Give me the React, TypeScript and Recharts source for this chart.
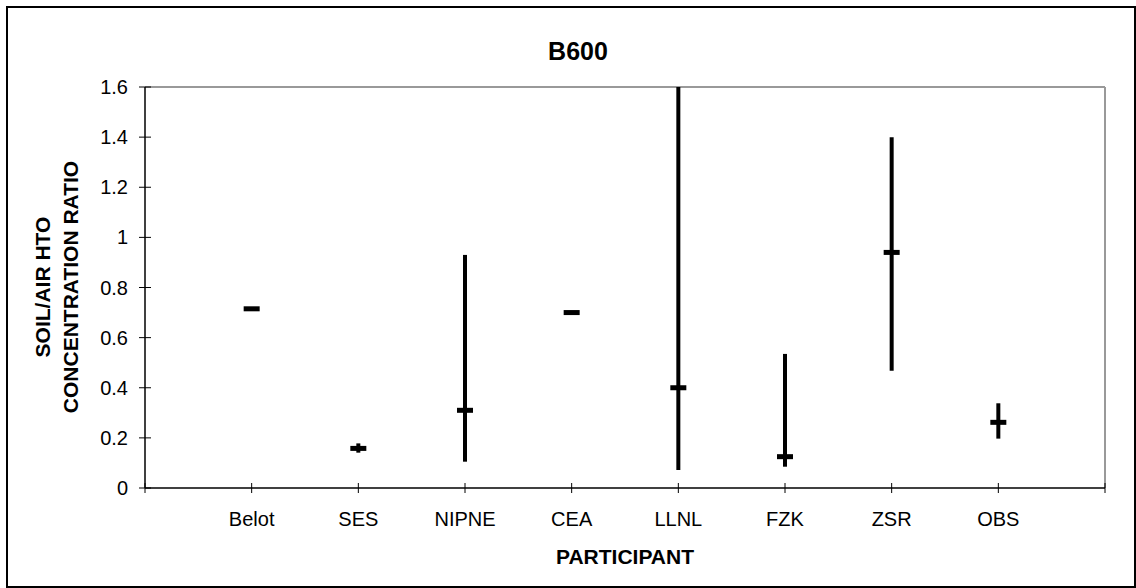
import React from 'react';
import { ComposedChart, Scatter, ErrorBar, XAxis, YAxis, ReferenceLine } from 'recharts';

const participants = ['Belot', 'SES', 'NIPNE', 'CEA', 'LLNL', 'FZK', 'ZSR', 'OBS'];
const means = [0.715, 0.158, 0.31, 0.7, 0.4, 0.125, 0.94, 0.262];
const lows = [0.715, 0.141, 0.105, 0.7, 0.072, 0.085, 0.468, 0.197];
const highs = [0.715, 0.178, 0.93, 0.7, 1.6, 0.535, 1.4, 0.338];
const yTicks = [0, 0.2, 0.4, 0.6, 0.8, 1, 1.2, 1.4, 1.6];
const xTicks = [0, 1, 2, 3, 4, 5, 6, 7, 8, 9];

const FONT = '"Liberation Sans", Arial, sans-serif';

const data = participants.map((name, i) => ({
  name,
  pos: i + 1,
  mean: means[i],
  err: [means[i] - lows[i], highs[i] - means[i]],
}));

const XTick = (props: any) => {
  const { x, y, payload } = props;
  const label = participants[payload.value - 1] ?? '';
  return (
    <g>
      <line x1={x} x2={x} y1={y - 5} y2={y + 5} stroke="#000" strokeWidth={1} />
      <text x={x} y={y + 38} textAnchor="middle" fontSize={20} fontFamily={FONT} fill="#000">
        {label}
      </text>
    </g>
  );
};

const YTick = (props: any) => {
  const { x, y, payload } = props;
  return (
    <g>
      <line x1={x - 6} x2={x + 6} y1={y} y2={y} stroke="#000" strokeWidth={1} />
      <text x={x - 17} y={y + 7} textAnchor="end" fontSize={20} fontFamily={FONT} fill="#000">
        {String(payload.value)}
      </text>
    </g>
  );
};

const MeanDash = (props: any) => {
  const { cx, cy } = props;
  return <rect x={cx - 8} y={cy - 2.5} width={16} height={5} fill="#000" />;
};

export default function App() {
  return (
    <div style={{ position: 'absolute', left: 0, top: 0, width: 1136, height: 588, background: '#fff' }}>
      <ComposedChart
        width={1136}
        height={588}
        data={data}
        margin={{ top: 87, right: 31, left: 45, bottom: 60 }}
      >
        <ReferenceLine y={1.6} stroke="#999" strokeWidth={2} />
        <ReferenceLine x={9} stroke="#999" strokeWidth={2} />
        <XAxis
          dataKey="pos"
          type="number"
          domain={[0, 9]}
          ticks={xTicks}
          interval={0}
          height={40}
          tickSize={0}
          tickMargin={0}
          tickLine={false}
          tick={<XTick />}
          axisLine={{ stroke: '#000', strokeWidth: 1.5 }}
        />
        <YAxis
          type="number"
          domain={[0, 1.6]}
          ticks={yTicks}
          interval={0}
          width={100}
          allowDataOverflow
          tickSize={0}
          tickMargin={0}
          tickLine={false}
          tick={<YTick />}
          axisLine={{ stroke: '#000', strokeWidth: 1.5 }}
        />
        <Scatter dataKey="mean" shape={<MeanDash />} isAnimationActive={false}>
          <ErrorBar dataKey="err" direction="y" width={0} strokeWidth={4} stroke="#000" isAnimationActive={false} />
        </Scatter>
      </ComposedChart>
      <svg
        width={1136}
        height={588}
        style={{ position: 'absolute', left: 0, top: 0, pointerEvents: 'none' }}
      >
        <text x={578} y={60} textAnchor="middle" fontSize={25} fontWeight="bold" fontFamily={FONT} fill="#000">
          B600
        </text>
        <text x={625} y={564} textAnchor="middle" fontSize={21} fontWeight="bold" fontFamily={FONT} fill="#000">
          PARTICIPANT
        </text>
        <text
          transform="translate(50, 287) rotate(-90)"
          textAnchor="middle"
          fontSize={21}
          fontWeight="bold"
          fontFamily={FONT}
          fill="#000"
        >
          SOIL/AIR HTO
        </text>
        <text
          transform="translate(78, 287) rotate(-90)"
          textAnchor="middle"
          fontSize={21}
          fontWeight="bold"
          fontFamily={FONT}
          fill="#000"
        >
          CONCENTRATION RATIO
        </text>
      </svg>
      <div
        style={{
          position: 'absolute',
          left: 6,
          top: 6,
          width: 1130,
          height: 582,
          border: '2px solid #000',
          boxSizing: 'border-box',
          pointerEvents: 'none',
        }}
      />
    </div>
  );
}
